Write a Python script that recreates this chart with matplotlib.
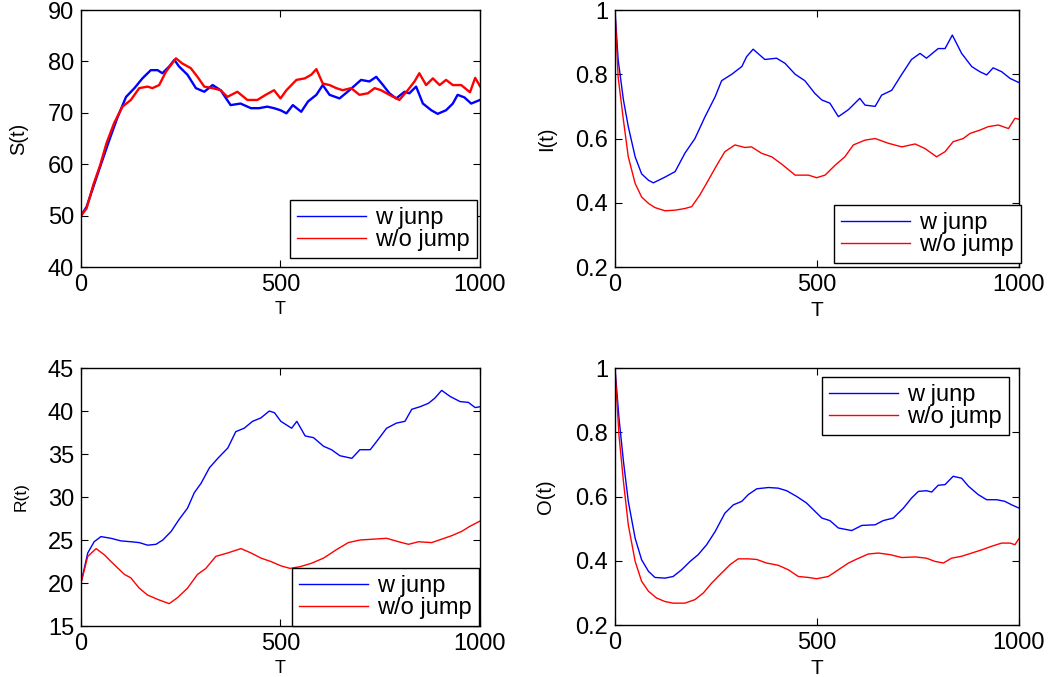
import numpy as np
import matplotlib
matplotlib.use("Agg")
import matplotlib.pyplot as plt
from matplotlib.ticker import FuncFormatter

plt.rcParams['font.family'] = ['Liberation Sans', 'DejaVu Sans']

# ── Data: (T, value) pairs ────────────────────────────────────
S_jump = [(0, 50), (14, 51.7), (31, 55.6), (48, 59.5), (71, 64.7), (92, 69.2), (113, 73.1),
          (134, 74.8), (154, 76.7), (175, 78.3), (192, 78.3), (204, 77.7), (221, 79), (234, 80.3),
          (246, 79), (267, 77.4), (288, 74.8), (309, 74.1), (330, 75.4), (350, 74.4), (375, 71.5),
          (400, 71.8), (426, 70.9), (446, 70.9), (467, 71.2), (484, 70.9), (500, 70.5), (515, 69.9),
          (531, 71.5), (552, 70.2), (569, 72.2), (590, 73.5), (606, 75.4), (623, 73.5), (648, 72.8),
          (673, 74.4), (702, 76.4), (723, 76.1), (740, 77), (757, 75.4), (773, 73.8), (790, 72.8),
          (811, 74.1), (823, 73.8), (840, 75.1), (857, 71.8), (878, 70.5), (894, 69.8), (915, 70.5),
          (932, 71.8), (944, 73.5), (961, 73), (978, 71.8), (1000, 72.5)]
S_nojump = [(0, 50), (14, 51.4), (31, 56), (48, 59.8), (64, 64.1), (83, 68), (104, 71.2),
            (125, 72.5), (146, 74.8), (167, 75.1), (179, 74.8), (196, 75.4), (213, 78), (238, 80.6),
            (254, 79.6), (275, 78.7), (292, 77), (309, 75.1), (330, 74.8), (350, 74.4), (367, 73.1),
            (392, 74.1), (417, 72.5), (442, 72.5), (463, 73.5), (484, 74.4), (500, 72.8), (515, 74.4),
            (540, 76.4), (561, 76.7), (577, 77.4), (590, 78.5), (606, 75.7), (623, 75.4), (640, 74.8),
            (656, 74.4), (677, 74.8), (698, 73.5), (719, 73.8), (736, 74.8), (752, 74.4), (773, 73.5),
            (798, 72.5), (819, 74.4), (836, 76.1), (848, 77.7), (865, 75.4), (882, 76.7), (899, 75.4),
            (915, 76.4), (932, 75.4), (953, 75.4), (975, 74), (988, 76.8), (1000, 75.2)]

I_jump = [(0, 1.0), (8, 0.844), (21, 0.72), (33, 0.637), (50, 0.543), (66, 0.49), (83, 0.47),
          (95, 0.462), (124, 0.48), (149, 0.497), (173, 0.554), (198, 0.60), (223, 0.668),
          (248, 0.73), (264, 0.78), (289, 0.80), (314, 0.824), (326, 0.855), (342, 0.878),
          (371, 0.846), (400, 0.85), (421, 0.834), (446, 0.80), (470, 0.78), (495, 0.74),
          (512, 0.72), (532, 0.71), (553, 0.668), (578, 0.69), (606, 0.725), (619, 0.704),
          (644, 0.70), (660, 0.735), (685, 0.75), (710, 0.80), (734, 0.846), (755, 0.865),
          (771, 0.85), (800, 0.88), (817, 0.88), (835, 0.922), (858, 0.865), (883, 0.824),
          (903, 0.808), (920, 0.798), (936, 0.82), (957, 0.808), (978, 0.787), (1000, 0.774)]
I_nojump = [(0, 1.0), (8, 0.79), (21, 0.657), (33, 0.543), (50, 0.46), (66, 0.418), (83, 0.398),
            (99, 0.385), (124, 0.375), (149, 0.377), (173, 0.382), (190, 0.388), (210, 0.424),
            (231, 0.47), (252, 0.517), (272, 0.559), (297, 0.58), (322, 0.572), (338, 0.574),
            (363, 0.554), (388, 0.543), (413, 0.52), (446, 0.486), (479, 0.486), (499, 0.478),
            (520, 0.486), (545, 0.517), (569, 0.543), (590, 0.58), (619, 0.595), (644, 0.60),
            (677, 0.585), (710, 0.574), (743, 0.583), (767, 0.569), (796, 0.543), (817, 0.559),
            (837, 0.59), (862, 0.60), (879, 0.616), (903, 0.626), (924, 0.637), (949, 0.642),
            (974, 0.631), (990, 0.663), (1000, 0.66)]

R_jump = [(0, 20), (17, 23.5), (33, 24.8), (50, 25.4), (75, 25.2), (100, 24.9), (125, 24.8),
          (146, 24.7), (167, 24.4), (188, 24.5), (205, 25.0), (226, 26.0), (246, 27.4), (267, 28.7),
          (284, 30.5), (301, 31.6), (322, 33.4), (343, 34.5), (368, 35.7), (388, 37.6), (409, 38.0),
          (430, 38.8), (451, 39.2), (472, 40.0), (485, 39.8), (501, 38.8), (528, 38.0), (541, 38.8),
          (562, 37.1), (583, 36.9), (608, 35.9), (628, 35.5), (649, 34.8), (679, 34.5), (699, 35.5),
          (725, 35.5), (745, 36.7), (766, 38.0), (791, 38.6), (812, 38.8), (829, 40.2), (850, 40.5),
          (871, 40.9), (887, 41.5), (904, 42.4), (925, 41.7), (950, 41.1), (971, 41.0), (988, 40.4),
          (1000, 40.5)]
R_nojump = [(0, 20), (17, 23.1), (38, 24.0), (58, 23.3), (84, 22.1), (109, 21.0), (125, 20.6),
            (146, 19.4), (167, 18.6), (192, 18.1), (221, 17.6), (242, 18.3), (267, 19.4), (292, 21.0),
            (313, 21.7), (338, 23.1), (368, 23.5), (401, 24.0), (426, 23.5), (451, 22.9), (476, 22.5),
            (501, 22.0), (524, 21.7), (549, 21.9), (578, 22.3), (608, 22.9), (641, 23.9), (670, 24.7),
            (699, 25.0), (733, 25.1), (766, 25.2), (796, 24.8), (821, 24.5), (846, 24.8), (879, 24.7),
            (904, 25.1), (929, 25.5), (954, 26.0), (975, 26.6), (1000, 27.2)]

O_jump = [(0, 1.0), (10, 0.844), (21, 0.71), (33, 0.585), (50, 0.47), (66, 0.403), (83, 0.367),
          (99, 0.348), (124, 0.346), (144, 0.351), (165, 0.372), (186, 0.398), (206, 0.419),
          (227, 0.45), (248, 0.491), (272, 0.548), (293, 0.574), (314, 0.585), (330, 0.606),
          (351, 0.624), (380, 0.628), (404, 0.626), (425, 0.618), (450, 0.60), (474, 0.58),
          (495, 0.554), (512, 0.533), (532, 0.525), (553, 0.502), (586, 0.494), (611, 0.51),
          (644, 0.512), (664, 0.525), (689, 0.533), (714, 0.564), (734, 0.595), (751, 0.616),
          (771, 0.618), (784, 0.614), (800, 0.635), (817, 0.637), (837, 0.663), (858, 0.657),
          (875, 0.632), (899, 0.606), (920, 0.59), (945, 0.59), (965, 0.585), (982, 0.574),
          (1000, 0.564)]
O_nojump = [(0, 1.0), (10, 0.79), (21, 0.647), (33, 0.512), (50, 0.398), (66, 0.336), (83, 0.305),
            (103, 0.284), (124, 0.273), (144, 0.268), (173, 0.268), (198, 0.279), (219, 0.30),
            (239, 0.33), (264, 0.362), (285, 0.388), (305, 0.406), (330, 0.406), (351, 0.404),
            (375, 0.393), (404, 0.386), (429, 0.372), (454, 0.351), (479, 0.348), (499, 0.344),
            (528, 0.351), (553, 0.372), (578, 0.393), (598, 0.405), (627, 0.421), (652, 0.424),
            (681, 0.419), (710, 0.41), (743, 0.412), (771, 0.408), (792, 0.398), (813, 0.393),
            (833, 0.408), (858, 0.414), (883, 0.424), (908, 0.434), (932, 0.445), (957, 0.455),
            (978, 0.455), (990, 0.45), (1000, 0.469)]

labels = ['w junp', 'w/o jump']
x_ticks = [0, 500, 1000]

fig = plt.figure(figsize=(10.53, 6.77), dpi=100)

# panel: (position, series pair, ylabel, ylim, yticks, line width, label sizes, legend placement)
panels = [
    ([0.0769, 0.6056, 0.3789, 0.3796], (S_jump, S_nojump), 'S(t)', (40, 90), [40, 50, 60, 70, 80, 90],
     1.7, 14.5, 13, ('lower right', (0.9925, 0.035)), (-0.155, -0.165)),
    ([0.5840, 0.6056, 0.3837, 0.3796], (I_jump, I_nojump), 'I(t)', (0.2, 1), [0.2, 0.4, 0.6, 0.8, 1.0],
     1.0, 14.5, 15, ('lower right', (1.005, 0.016)), (-0.168, -0.17)),
    ([0.0769, 0.0753, 0.3789, 0.3811], (R_jump, R_nojump), 'R(t)', (15, 45), [15, 20, 25, 30, 35, 40, 45],
     1.0, 12.5, 13, ('lower right', (0.9975, 0.0)), (-0.15, -0.163)),
    ([0.5840, 0.0768, 0.3837, 0.3796], (O_jump, O_nojump), 'O(t)', (0.2, 1), [0.2, 0.4, 0.6, 0.8, 1.0],
     1.0, 14.5, 15, ('upper right', (0.975, 0.965)), (-0.173, -0.17)),
]

for pos, (blue, red), ylab, ylim, yticks, lw, ylab_fs, xlab_fs, (loc, anchor), (ylx, xly) in panels:
    ax = fig.add_axes(pos)
    tb, vb = np.array(blue).T
    tr, vr = np.array(red).T
    ax.plot(tb, vb, color='#0000ff', linewidth=lw, label=labels[0])
    ax.plot(tr, vr, color='#ff0000', linewidth=lw, label=labels[1])

    ax.set_xlim(0, 1000)
    ax.set_ylim(*ylim)
    ax.set_xticks(x_ticks)
    ax.set_yticks(yticks)
    ax.yaxis.set_major_formatter(FuncFormatter(lambda v, p: f'{v:g}'))
    ax.tick_params(direction='in', top=True, right=True, length=5, width=0.8,
                   labelsize=17, pad=5)
    for sp in ax.spines.values():
        sp.set_linewidth(1.0)
        sp.set_color('black')

    ax.set_xlabel('T', fontsize=xlab_fs)
    ax.set_ylabel(ylab, fontsize=ylab_fs)
    ax.xaxis.set_label_coords(0.5, xly)
    ax.xaxis.label.set_verticalalignment('center')
    ax.yaxis.set_label_coords(ylx, 0.5)
    ax.yaxis.label.set_verticalalignment('center')

    leg = ax.legend(loc=loc, bbox_to_anchor=anchor, borderaxespad=0, fontsize=17,
                    fancybox=False, framealpha=1, edgecolor='black', borderpad=0.3,
                    handlelength=2.9, handletextpad=0.4, labelspacing=0.0)
    leg.get_frame().set_linewidth(1.0)
    for h in leg.get_lines():
        h.set_linewidth(1.0)

fig.savefig('out.png', dpi=100)
